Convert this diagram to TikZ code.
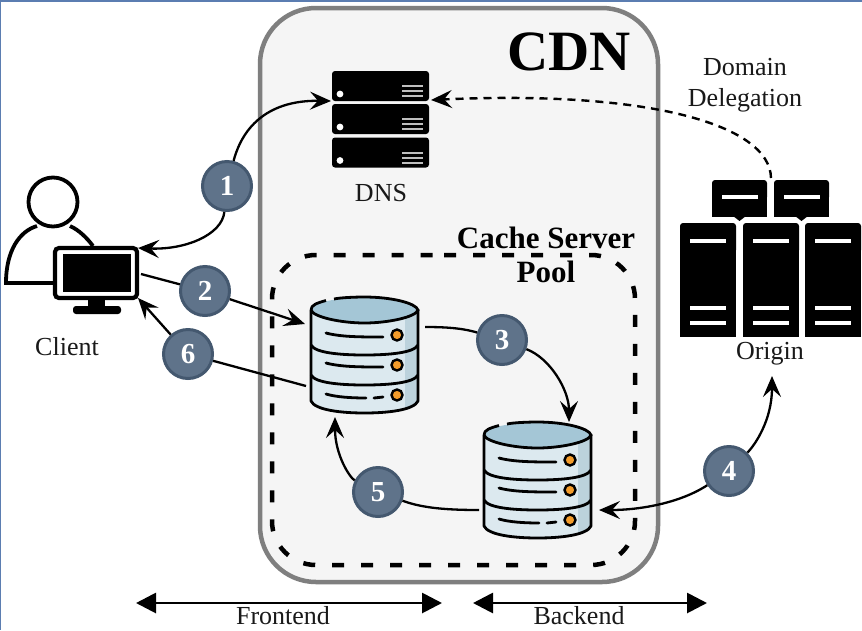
\documentclass[tikz,border=0pt]{standalone}
\usepackage{fontspec}
\setmainfont{Liberation Serif}
\usetikzlibrary{arrows.meta}
\definecolor{boxgray}{HTML}{7F7F7F}
\definecolor{boxfill}{HTML}{F5F5F5}
\definecolor{badge}{HTML}{5F738A}
\definecolor{badgeline}{HTML}{44586F}
\definecolor{dbbody}{HTML}{DCE9EF}
\definecolor{dbside}{HTML}{BCD2DC}
\definecolor{dbtop}{HTML}{A4C6D6}
\definecolor{dbled}{HTML}{F39C2B}
\definecolor{stripe}{HTML}{5B7DB1}
\tikzset{
  x=1pt,y=-1pt,
  headtip/.tip={Stealth[length=21pt,width=18pt,inset=8pt]},
  flow/.style={line width=2.3pt,-headtip},
  plainflow/.style={line width=2.3pt},
  numbadge/.style={circle,fill=badge,draw=badgeline,line width=3pt,minimum size=49pt,inner sep=0pt,text=white,font=\bfseries\fontsize{29}{29}\selectfont},
  lab/.style={font=\fontsize{26}{31}\selectfont,text=black!90,inner sep=0pt},
  span/.style={line width=2.8pt,{Triangle[length=20pt,width=20pt]}-{Triangle[length=20pt,width=20pt]}},
  pics/dbicon/.style={code={
    \begin{scope}
      \clip (0,13) -- (0,104) .. controls (4,113) and (30,116) .. (53.5,116) .. controls (77,116) and (103,113) .. (107,104) -- (107,13) -- cycle;
      \fill[dbbody] (0,0) rectangle (107,120);
      \fill[dbside] (94,0) rectangle (107,120);
    \end{scope}
    \fill[dbtop] (53.5,13) ellipse[x radius=53.5,y radius=12.5];
    \draw[line width=2.8pt,line join=round] (0,13) -- (0,104) .. controls (4,113) and (30,116) .. (53.5,116) .. controls (77,116) and (103,113) .. (107,104) -- (107,13);
    \draw[line width=2.8pt] (0,13) .. controls (2,20) and (30,26) .. (53.5,26) .. controls (77,26) and (105,20) .. (107,13) .. controls (105,6) and (80,0) .. (53.5,0) .. controls (45,0) and (30,0.5) .. (23,2);
    \draw[line width=2.8pt] (0,13) .. controls (0,8) and (6,6) .. (15,3.5);
    \foreach \yy in {56,86}{
      \draw[line width=2.8pt] (0,\yy-8) .. controls (4,\yy) and (30,\yy+2) .. (53.5,\yy+2) .. controls (77,\yy+2) and (103,\yy) .. (107,\yy-8);
    }
    \draw[line width=2.8pt,line cap=round] (15,36) .. controls (30,40) and (50,40) .. (72,40);
    \draw[line width=2.8pt,line cap=round] (15,66) .. controls (30,70) and (50,70) .. (72,70);
    \draw[line width=2.8pt,line cap=round] (15,97) .. controls (25,100) and (40,101) .. (55,101);
    \draw[line width=2.8pt,line cap=round] (63,101) -- (72,100);
    \foreach \yy in {38,68,98}{
      \fill[dbled,draw=black,line width=2.4pt] (86,\yy) circle[radius=5.5];
    }
  }},
  pics/rack/.style={code={
    \fill[rounded corners=3pt] (0,0) rectangle (97,30);
    \fill[white] (8,23) circle[radius=3.4];
    \foreach \yy in {15,20,25}{\fill[black!25] (70,\yy-1) rectangle (91,\yy+1);}
  }},
  pics/tower/.style={code={
    \fill[rounded corners=3pt] (0,30) -- (0,0) -- (56,0) -- (56,30) -- cycle;
    \fill (0,20) rectangle (56,114);
    \foreach \yy in {18,85,100}{\fill[white] (10,\yy-2) rectangle (46,\yy+2);}
  }},
  pics/smallbox/.style={code={
    \fill[rounded corners=3pt] (0,20) -- (0,0) -- (55,0) -- (55,20) -- cycle;
    \fill (0,10) rectangle (55,37);
    \fill (21,36) -- (34,36) -- (27.5,41) -- cycle;
    \fill[white] (10,15) rectangle (46,19);
  }},
}
\begin{document}
\begin{tikzpicture}
\useasboundingbox (0,0) rectangle (862,630);
\fill[white] (0,0) rectangle (862,630);
\fill[stripe] (0,0) rectangle (862,2);
\fill[stripe] (0,0) rectangle (1.2,630);

% CDN box
\draw[boxgray,fill=boxfill,line width=4.5pt,rounded corners=56pt] (260,8) rectangle (658,582);
\node[font=\bfseries\fontsize{57}{57}\selectfont,inner sep=0pt] (cdn) at (569,52) {CDN};

% Pool
\draw[line width=4.5pt,dash pattern=on 12pt off 17pt,rounded corners=44pt] (400,255) -- (635,255) -- (635,565) -- (272,565) -- (272,255) -- cycle;
\node[font=\bfseries\fontsize{31}{34}\selectfont,align=center,inner sep=0pt] (pool) at (546,255) {Cache Server\\Pool};

% DNS
\pic at (332,71) {rack};
\pic at (332,104) {rack};
\pic at (332,137.5) {rack};
\coordinate (dnsL) at (331,101);
\coordinate (dnsR) at (431,100);
\node[lab] (dns) at (381,193) {DNS};

% Client
\draw[line width=3.8pt] (53,202) circle[radius=24.5];
\draw[line width=3.8pt] (37,226) .. controls (20,231) and (6,250) .. (6,283) -- (54,283);
\draw[line width=3.8pt] (70,226) .. controls (79,230) and (87,238) .. (93,246);
\fill[white,draw=black,line width=4.2pt,rounded corners=4pt] (55,248) rectangle (137,298);
\fill (63,254) rectangle (131,292);
\fill (88,298) rectangle (105,309);
\fill[rounded corners=3pt] (73,306) rectangle (121,314);
\coordinate (clientA) at (138,248);
\coordinate (clientB) at (141,274);
\coordinate (clientC) at (138,298);
\node[lab] (client) at (67,347) {Client};

% Origin
\pic at (712,180) {smallbox};
\pic at (774,180) {smallbox};
\pic at (680,223) {tower};
\pic at (743,223) {tower};
\pic at (805,223) {tower};
\coordinate (originTop) at (771,178);
\coordinate (originBottom) at (772,376);
\node[lab] (origin) at (770,354) {Origin};

% Databases
\pic at (311,297) {dbicon};
\pic at (484,422) {dbicon};
\coordinate (db1L) at (305,324);
\coordinate (db1Lb) at (306,386);
\coordinate (db1R) at (425,327);
\coordinate (db1B) at (335,417);
\coordinate (db2T) at (569,422);
\coordinate (db2L) at (479,510);
\coordinate (db2R) at (599,510);

% Badges
\node[numbadge] (b1) at (227,186) {1};
\node[numbadge] (b2) at (205,291) {2};
\node[numbadge] (b3) at (502,340) {3};
\node[numbadge] (b4) at (729,471) {4};
\node[numbadge] (b5) at (378,492) {5};
\node[numbadge] (b6) at (188,354) {6};

% Connectors
\draw[flow] (b1) .. controls (243,125) and (270,100) .. (dnsL);
\draw[flow] (b1) .. controls (222,235) and (185,250) .. (clientA);
\draw[plainflow] (clientB) -- (b2);
\draw[flow] (b2) -- (db1L);
\draw[flow] (b6) -- (clientC);
\draw[plainflow] (db1Lb) -- (b6);
\draw[plainflow] (db1R) .. controls (445,327) and (462,328) .. (b3);
\draw[flow] (b3) .. controls (550,358) and (569,390) .. (db2T);
\draw[flow] (b4) .. controls (680,503) and (640,510) .. (db2R);
\draw[flow] (b4) .. controls (755,445) and (772,420) .. (originBottom);
\draw[plainflow] (db2L) .. controls (440,510) and (420,507) .. (b5);
\draw[flow] (b5) .. controls (350,478) and (335,455) .. (db1B);
\draw[line width=2.4pt,dash pattern=on 8pt off 6pt,-headtip] (originTop) .. controls (770,125) and (650,90) .. (dnsR);

\node[lab,align=center] (dd) at (745,85) {Domain\\Delegation};

% Spans
\coordinate (fl) at (136,603);
\coordinate (fr) at (442,603);
\coordinate (bl) at (473,603);
\coordinate (br) at (707,603);
\draw[span] (fl) -- (fr);
\draw[span] (bl) -- (br);
\node[lab] (fe) at (283,616) {Frontend};
\node[lab] (be) at (579,616) {Backend};
\end{tikzpicture}
\end{document}
